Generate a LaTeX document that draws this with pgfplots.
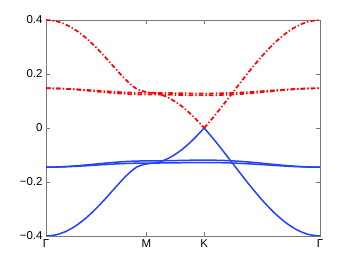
\documentclass[border=0pt]{standalone}
\usepackage{fontspec}
\setmainfont{Liberation Sans}
\usepackage{pgfplots}
\usepackage{pgfplotstable}
\pgfplotsset{compat=1.18}
\usetikzlibrary{calc}
\definecolor{bandblue}{RGB}{35,65,255}
\definecolor{bandred}{RGB}{255,0,0}
\definecolor{axgray}{RGB}{120,120,120}
\pgfplotstableread{
x      D        N         U       L       Ur     Lr
0.0000 0.40000 -0.40000 -0.1450 -0.1450 0.1470 0.1470
0.0866 0.39563 -0.39563 -0.1444 -0.1446 0.1464 0.1466
0.1732 0.38265 -0.38265 -0.1428 -0.1436 0.1448 0.1454
0.2598 0.36151 -0.36151 -0.1402 -0.1419 0.1422 0.1435
0.3464 0.33296 -0.33296 -0.1370 -0.1398 0.1390 0.1412
0.4330 0.29814 -0.29814 -0.1334 -0.1374 0.1354 0.1386
0.5196 0.25868 -0.25868 -0.1299 -0.1351 0.1319 0.1360
0.6062 0.21700 -0.21700 -0.1267 -0.1330 0.1287 0.1336
0.6928 0.17708 -0.17708 -0.1241 -0.1313 0.1261 0.1317
0.7794 0.14580 -0.14580 -0.1225 -0.1303 0.1245 0.1305
0.8660 0.13333 -0.13333 -0.1219 -0.1299 0.1239 0.1301
0.9660 0.12751 -0.12751 -0.1216 -0.1297 0.1236 0.1299
1.0660 0.11028 -0.11028 -0.1210 -0.1293 0.1230 0.1294
1.1660 0.08240 -0.08240 -0.1201 -0.1287 0.1221 0.1288
1.2660 0.04510 -0.04510 -0.1193 -0.1282 0.1213 0.1282
1.3660 0.00000 0.00000 -0.1190 -0.1280 0.1210 0.1280
1.4660 0.05093 -0.05093 -0.1194 -0.1283 0.1214 0.1283
1.5660 0.10546 -0.10546 -0.1208 -0.1292 0.1228 0.1294
1.6660 0.16121 -0.16121 -0.1232 -0.1308 0.1252 0.1311
1.7660 0.21574 -0.21574 -0.1266 -0.1330 0.1286 0.1335
1.8660 0.26667 -0.26667 -0.1306 -0.1356 0.1326 0.1364
1.9660 0.31177 -0.31177 -0.1348 -0.1383 0.1368 0.1394
2.0660 0.34907 -0.34907 -0.1388 -0.1410 0.1408 0.1425
2.1660 0.37695 -0.37695 -0.1421 -0.1431 0.1441 0.1449
2.2660 0.39417 -0.39417 -0.1443 -0.1445 0.1463 0.1465
2.3660 0.40000 -0.40000 -0.1450 -0.1450 0.1470 0.1470
}\bands
\begin{document}
\begin{tikzpicture}
\begin{axis}[
  scale only axis, width=274bp, height=216bp,
  xmin=0, xmax=2.366, ymin=-0.4, ymax=0.4,
  xtick={0,0.866,1.366,2.366}, xticklabels={Γ,M,K,Γ},
  ytick={-0.4,-0.2,0,0.2,0.4}, yticklabels={−0.4,−0.2,0,0.2,0.4},
  tick align=inside, major tick length=4bp,
  axis line style={axgray, line width=0.7bp},
  every tick/.style={axgray, line width=0.6bp},
  ticklabel style={font=\fontsize{11.5}{13}\selectfont, text=black},
  clip=true,
]
\pgfplotsset{bl/.style={bandblue, line width=1.5bp, smooth, tension=0.5},
             rd/.style={bandred, line width=1.7bp, smooth, tension=0.5,
                        dash pattern=on 4.5bp off 2.2bp on 1.3bp off 2.2bp}}
\addplot[bl] table[x=x, y=U] {\bands};
\addplot[bl] table[x=x, y=L] {\bands};
\addplot[bl, restrict x to domain=0:1.3661] table[x=x, y=N] {\bands};
\addplot[bl, restrict x to domain=1.3659:2.4] table[x=x, y=N] {\bands};
\addplot[rd] table[x=x, y=Ur] {\bands};
\addplot[rd] table[x=x, y=Lr] {\bands};
\addplot[rd, restrict x to domain=0:1.3661] table[x=x, y=D] {\bands};
\addplot[rd, restrict x to domain=1.3659:2.4] table[x=x, y=D] {\bands};
\end{axis}
\path ($(current axis.south west)+(-46bp,-31bp)$) rectangle ($(current axis.north east)+(34bp,20bp)$);
\end{tikzpicture}
\end{document}
